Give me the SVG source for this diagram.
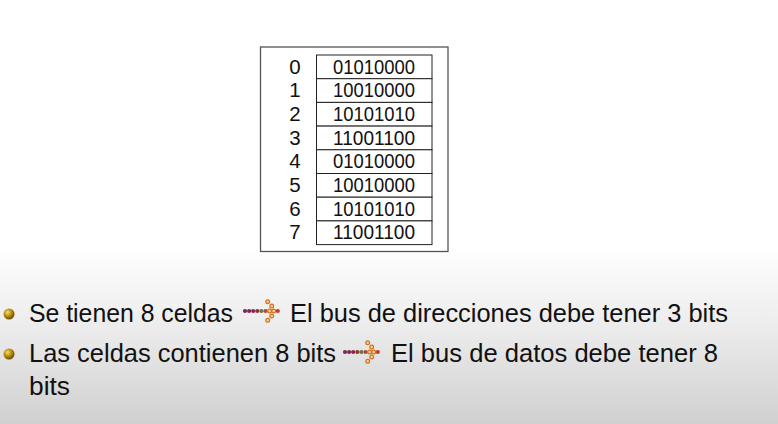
<svg xmlns="http://www.w3.org/2000/svg" xmlns:xlink="http://www.w3.org/1999/xlink" width="778" height="424" viewBox="0 0 778 424">
<style>
.cell{fill:#fff;stroke:#222;stroke-width:1}
.cv{font-family:"Liberation Sans",Arial,sans-serif;font-size:20.5px;fill:#111;text-anchor:middle}
.ix{font-family:"Liberation Sans",Arial,sans-serif;font-size:20.5px;fill:#111;text-anchor:middle}
.bt{font-family:"Liberation Sans",Arial,sans-serif;font-size:25.5px;fill:#111}
.fd{stroke:none}
.rd{fill:#f4d49a;stroke:#d4701c;stroke-width:1.2}
</style>
<defs>
<linearGradient id="bg" x1="0" y1="0" x2="0" y2="1">
<stop offset="0" stop-color="#ffffff"/>
<stop offset="0.58" stop-color="#ffffff"/>
<stop offset="0.78" stop-color="#ebebeb"/>
<stop offset="1" stop-color="#d0d0d0"/>
</linearGradient>
<radialGradient id="ball" cx="0.38" cy="0.35" r="0.7">
<stop offset="0" stop-color="#f2dc70"/>
<stop offset="0.5" stop-color="#b88e10"/>
<stop offset="1" stop-color="#5e4600"/>
</radialGradient>
<g id="arr">
<circle class="fd" cx="0" cy="0" r="2.1" fill="#74285e"/>
<circle class="fd" cx="4.1" cy="0" r="2.1" fill="#802850"/>
<circle class="fd" cx="8.2" cy="0" r="2.1" fill="#8c2a46"/>
<circle class="fd" cx="12.3" cy="0" r="2.1" fill="#963040"/>
<circle class="fd" cx="16.4" cy="0" r="2.1" fill="#6a7838"/>
<circle class="fd" cx="20.5" cy="0" r="2.1" fill="#b04a34"/>
<circle class="rd" cx="24.6" cy="0" r="1.9"/>
<circle class="rd" cx="28.7" cy="0" r="1.9"/>
<circle class="fd" cx="32.8" cy="0" r="2.1" fill="#c83a2a"/>
<circle class="rd" cx="22.7" cy="-9.3" r="1.9"/>
<circle class="rd" cx="26.7" cy="-5" r="1.9"/>
<circle class="rd" cx="26.7" cy="5" r="1.9"/>
<circle class="rd" cx="22.7" cy="9.3" r="1.9"/>
</g>
</defs>
<rect x="0" y="0" width="778" height="424" fill="url(#bg)"/>
<g id="memory">
<rect x="260.5" y="47" width="187.5" height="204.5" fill="#fff" stroke="#555" stroke-width="1.3"/>
<g id="row0"><rect class="cell" x="316.5" y="55" width="115.5" height="23.7"/><text class="ix" x="295" y="73.5">0</text><text class="cv" x="374" y="73.5" textLength="82" lengthAdjust="spacingAndGlyphs">01010000</text></g>
<g id="row1"><rect class="cell" x="316.5" y="78.7" width="115.5" height="23.7"/><text class="ix" x="295" y="97.2">1</text><text class="cv" x="374" y="97.2" textLength="82" lengthAdjust="spacingAndGlyphs">10010000</text></g>
<g id="row2"><rect class="cell" x="316.5" y="102.4" width="115.5" height="23.7"/><text class="ix" x="295" y="120.9">2</text><text class="cv" x="374" y="120.9" textLength="82" lengthAdjust="spacingAndGlyphs">10101010</text></g>
<g id="row3"><rect class="cell" x="316.5" y="126.1" width="115.5" height="23.7"/><text class="ix" x="295" y="144.6">3</text><text class="cv" x="374" y="144.6" textLength="82" lengthAdjust="spacingAndGlyphs">11001100</text></g>
<g id="row4"><rect class="cell" x="316.5" y="149.8" width="115.5" height="23.7"/><text class="ix" x="295" y="168.3">4</text><text class="cv" x="374" y="168.3" textLength="82" lengthAdjust="spacingAndGlyphs">01010000</text></g>
<g id="row5"><rect class="cell" x="316.5" y="173.5" width="115.5" height="23.7"/><text class="ix" x="295" y="192">5</text><text class="cv" x="374" y="192" textLength="82" lengthAdjust="spacingAndGlyphs">10010000</text></g>
<g id="row6"><rect class="cell" x="316.5" y="197.2" width="115.5" height="23.7"/><text class="ix" x="295" y="215.7">6</text><text class="cv" x="374" y="215.7" textLength="82" lengthAdjust="spacingAndGlyphs">10101010</text></g>
<g id="row7"><rect class="cell" x="316.5" y="220.9" width="115.5" height="23.7"/><text class="ix" x="295" y="239.4">7</text><text class="cv" x="374" y="239.4" textLength="82" lengthAdjust="spacingAndGlyphs">11001100</text></g>
</g>
<g id="bullet1">
<circle cx="9" cy="314" r="5.5" fill="url(#ball)"/>
<text class="bt" x="29" y="322" textLength="204" lengthAdjust="spacingAndGlyphs">Se tienen 8 celdas</text>
<text class="bt" x="290" y="322" textLength="438" lengthAdjust="spacingAndGlyphs">El bus de direcciones debe tener 3 bits</text>
</g>
<g id="bullet2">
<circle cx="9" cy="354" r="5.5" fill="url(#ball)"/>
<text class="bt" x="29" y="362" textLength="307" lengthAdjust="spacingAndGlyphs">Las celdas contienen 8 bits</text>
<text class="bt" x="391" y="362" textLength="327" lengthAdjust="spacingAndGlyphs">El bus de datos debe tener 8</text>
<text class="bt" x="29" y="395" textLength="41" lengthAdjust="spacingAndGlyphs">bits</text>
</g>
<g id="connectors">
<use xlink:href="#arr" x="245" y="311"/>
<use xlink:href="#arr" x="345" y="352"/>
</g>
</svg>
